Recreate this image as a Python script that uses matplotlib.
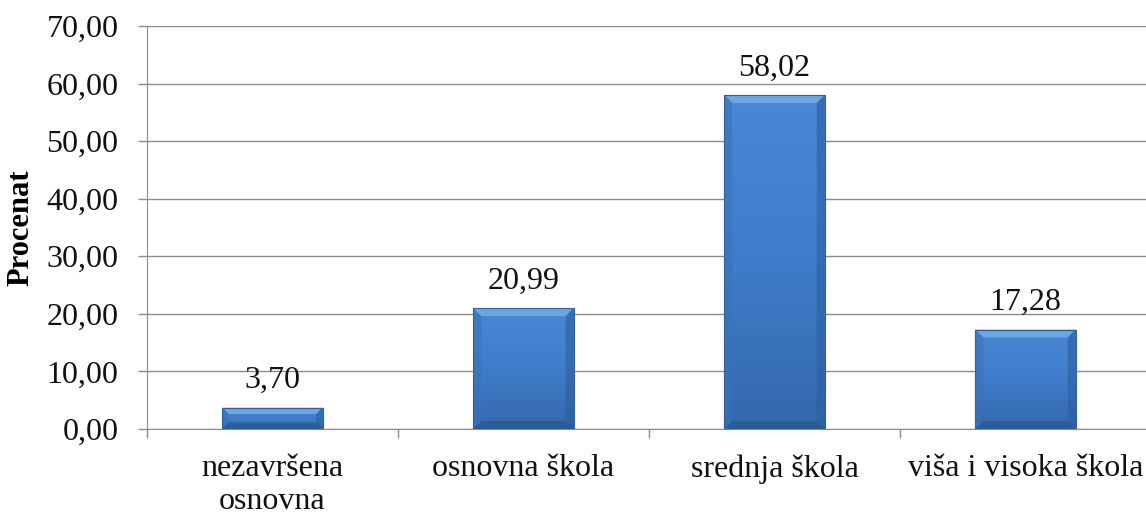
import matplotlib
matplotlib.use("Agg")
import numpy as np
import matplotlib.pyplot as plt
from matplotlib.patches import Polygon
from matplotlib.colors import LinearSegmentedColormap
from matplotlib.ticker import MultipleLocator, FuncFormatter

# education level shares
categories = ["nezavršena\nosnovna", "osnovna škola", "srednja škola", "viša i visoka škola"]
values = [3.70, 20.99, 58.02, 17.28]

plt.rcParams['font.family'] = ['Liberation Serif', 'DejaVu Serif']
FS = 23

fig = plt.figure(figsize=(11.46, 5.15), dpi=100)
ax = fig.add_axes([147 / 1146, 1 - 429 / 515, 1004 / 1146, (429 - 26) / 515])

edge = "#2F5F9C"
grad = LinearSegmentedColormap.from_list("bar", ["#3468AC", "#3F7DCA", "#4888D4"])

x = list(range(len(values)))
bars = ax.bar(x, values, width=0.4, color="#3F7CC8", edgecolor="none", zorder=3)

# gradient fill and bevel on each bar, bevel sized in pixels
px_x = len(values) / 1004.0
px_y = 70.0 / (429 - 26)
gy = np.linspace(0, 1, 64).reshape(-1, 1)
for b in bars:
    x0, y0 = b.get_x(), b.get_y()
    w, h = b.get_width(), b.get_height()
    x1, y1 = x0 + w, y0 + h
    img = ax.imshow(gy, cmap=grad, extent=(x0, x1, y0, y1), origin="lower",
                    aspect="auto", zorder=3.5)
    img.set_clip_path(b)
    bev_px = min(8, h / px_y * 0.3)
    bx, by = bev_px * px_x, bev_px * px_y
    sides = [
        ([(x0, y1), (x1, y1), (x1 - bx, y1 - by), (x0 + bx, y1 - by)], "#72A9E8", 0.9),
        ([(x0, y0), (x0 + bx, y0 + by), (x0 + bx, y1 - by), (x0, y1)], "#3A72BA", 0.6),
        ([(x1, y0), (x1, y1), (x1 - bx, y1 - by), (x1 - bx, y0 + by)], "#2D5E9E", 0.6),
        ([(x0, y0), (x1, y0), (x1 - bx, y0 + by), (x0 + bx, y0 + by)], "#29578F", 0.7),
    ]
    for pts, c, a in sides:
        ax.add_patch(Polygon(pts, closed=True, facecolor=c, alpha=a, edgecolor="none", zorder=4))
    ax.add_patch(plt.Rectangle((x0, y0), w, h, fill=False, edgecolor=edge, linewidth=0.8, zorder=5))

for xi, v in zip(x, values):
    ax.annotate(f"{v:.2f}".replace(".", ","), (xi, v), xytext=(0, 9), textcoords="offset points",
                ha="center", va="bottom", fontsize=FS, color="#111111")

ax.set_xlim(-0.5, len(values) - 0.5)
ax.set_ylim(0, 70)
ax.yaxis.set_major_locator(MultipleLocator(10))
ax.yaxis.set_major_formatter(FuncFormatter(lambda v, p: f"{v:.2f}".replace(".", ",")))
ax.grid(axis="y", color="#8c8c8c", linewidth=1.0, zorder=0)
ax.set_axisbelow(True)

ax.set_xticks(x)
ax.set_xticklabels(categories, fontsize=FS, color="#111111", linespacing=1.2)
ax.set_xticks([i - 0.5 for i in range(len(values) + 1)], minor=True)
ax.tick_params(axis="x", which="major", length=0, pad=18)
ax.tick_params(axis="x", which="minor", length=6.5, color="#8c8c8c", width=1)
ax.tick_params(axis="y", length=6.5, color="#8c8c8c", width=1, labelsize=FS, labelcolor="#111111", pad=14)

for s in ["top", "right"]:
    ax.spines[s].set_visible(False)
ax.spines["left"].set_color("#8c8c8c")
ax.spines["bottom"].set_color("#8c8c8c")

ax.set_ylabel("Procenat", fontsize=FS - 1, fontweight="bold", labelpad=8)

fig.savefig("out.png", dpi=100)
